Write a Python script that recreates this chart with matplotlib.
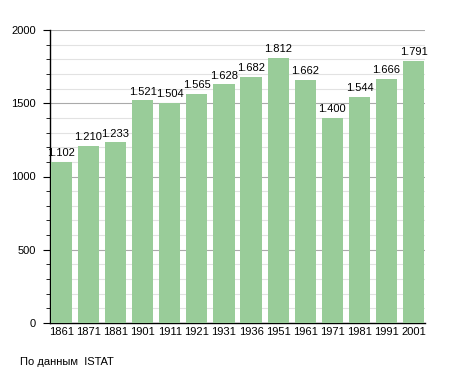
import matplotlib
matplotlib.use("Agg")
import matplotlib.pyplot as plt
from matplotlib.ticker import MultipleLocator

years = ["1861", "1871", "1881", "1901", "1911", "1921", "1931", "1936",
         "1951", "1961", "1971", "1981", "1991", "2001"]
population = [1102, 1210, 1233, 1521, 1504, 1565, 1628, 1682,
              1812, 1662, 1400, 1544, 1666, 1791]
value_labels = ["1.102", "1.210", "1.233", "1.521", "1.504", "1.565", "1.628",
                "1.682", "1.812", "1.662", "1.400", "1.544", "1.666", "1.791"]

plt.rcParams['font.family'] = ['Liberation Sans', 'DejaVu Sans']

fig = plt.figure(figsize=(4.55, 3.73), dpi=100)
ax = fig.add_axes([50/455, 1-323/373, 375/455, 293/373])

x = list(range(len(years)))
bars = ax.bar(x, population, width=0.78, color='#99cc99', zorder=3)
for xi, v, lab in zip(x, population, value_labels):
    ax.text(xi, v + 25, lab, ha='center', va='bottom', fontsize=8, zorder=4)

ax.set_xlim(-0.42, 13.42)
ax.set_ylim(0, 2000)
ax.set_xticks(x)
ax.set_xticklabels(years, fontsize=8)
ax.tick_params(axis='x', length=0, pad=3)
ax.yaxis.set_major_locator(MultipleLocator(500))
ax.yaxis.set_minor_locator(MultipleLocator(100))
ax.tick_params(axis='y', which='major', length=5, labelsize=8, pad=5)
ax.tick_params(axis='y', which='minor', length=3)
ax.grid(axis='y', which='major', color='#aaaaaa', linewidth=0.8, zorder=1)
ax.grid(axis='y', which='minor', color='#e2e2e2', linewidth=0.8, zorder=1)
for s in ['top', 'right']:
    ax.spines[s].set_visible(False)
ax.spines['left'].set_linewidth(1.0)
ax.spines['bottom'].set_linewidth(1.0)

fig.text(20/455, 1-362/373, "По данным  ISTAT", fontsize=8, ha='left', va='center')

fig.savefig("out.png", dpi=100)
